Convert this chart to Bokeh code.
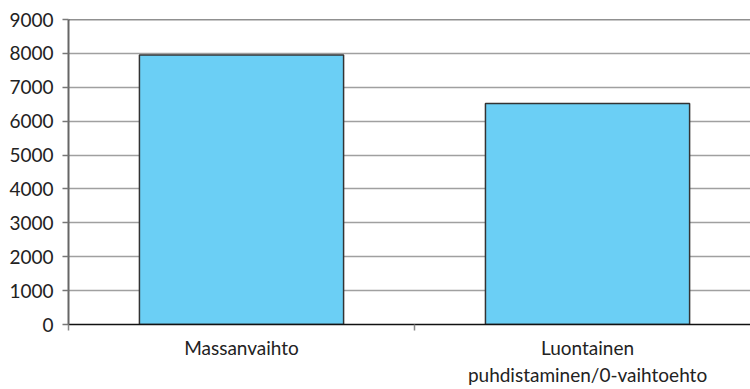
from bokeh.plotting import figure
from bokeh.models import FixedTicker, Range1d, Span, ColumnDataSource
from bokeh.embed import file_html
from bokeh.resources import INLINE

# Data
categories = ["Massanvaihto", "Luontainen\npuhdistaminen/0-vaihtoehto"]
values = [7950, 6520]
y_ticks = [0, 1000, 2000, 3000, 4000, 5000, 6000, 7000, 8000, 9000]

y_max = 9000
bar_width = 0.59
x_pos = [i + 0.5 for i in range(len(categories))]

source = ColumnDataSource(data=dict(x=x_pos, top=values, name=categories))

p = figure(
    width=750, height=389,
    output_backend="svg", toolbar_location=None,
    x_range=Range1d(0, 1.971), y_range=Range1d(0, y_max),
    min_border_left=68, min_border_right=0,
    min_border_top=19, min_border_bottom=60,
)
p.outline_line_color = None
p.background_fill_color = "white"
p.border_fill_color = "white"

p.vbar(x="x", top="top", bottom=0, width=bar_width, source=source,
       fill_color="#6BCFF5", line_color="#333333", line_width=1.5)

font = "Lato"
font_size = "19px"
txt = "#222222"

# y axis
p.yaxis.ticker = FixedTicker(ticks=y_ticks)
p.yaxis.axis_line_color = "#666666"
p.yaxis.axis_line_width = 2
p.yaxis.major_tick_line_color = "#777777"
p.yaxis.major_tick_line_width = 1.5
p.yaxis.major_tick_in = 0
p.yaxis.major_tick_out = 6
p.yaxis.minor_tick_line_color = None
p.yaxis.major_label_standoff = 9
p.yaxis.major_label_text_font = font
p.yaxis.major_label_text_font_size = font_size
p.yaxis.major_label_text_color = txt

# x axis: labels at category centres, small ticks at category boundaries
p.xaxis.ticker = FixedTicker(ticks=x_pos, minor_ticks=[0, 1, 2])
p.xaxis.major_label_overrides = {x: c for x, c in zip(x_pos, categories)}
p.xaxis.major_tick_line_color = None
p.xaxis.major_tick_in = 0
p.xaxis.major_tick_out = 0
p.xaxis.minor_tick_line_color = "#888888"
p.xaxis.minor_tick_line_width = 1.5
p.xaxis.minor_tick_in = 0
p.xaxis.minor_tick_out = 6
p.xaxis.axis_line_color = "#111111"
p.xaxis.axis_line_width = 1.5
p.xaxis.major_label_standoff = 5
p.xaxis.major_label_text_font = font
p.xaxis.major_label_text_font_size = font_size
p.xaxis.major_label_text_color = txt

p.xgrid.grid_line_color = None
p.ygrid.ticker = FixedTicker(ticks=y_ticks)
p.ygrid.grid_line_color = "#A0A0A0"
p.ygrid.grid_line_width = 1.5

# dark top border of the plot area
p.add_layout(Span(location=y_max, dimension="width",
                  line_color="#222222", line_width=1.5))

open("out.html", "w").write(file_html(p, INLINE))
